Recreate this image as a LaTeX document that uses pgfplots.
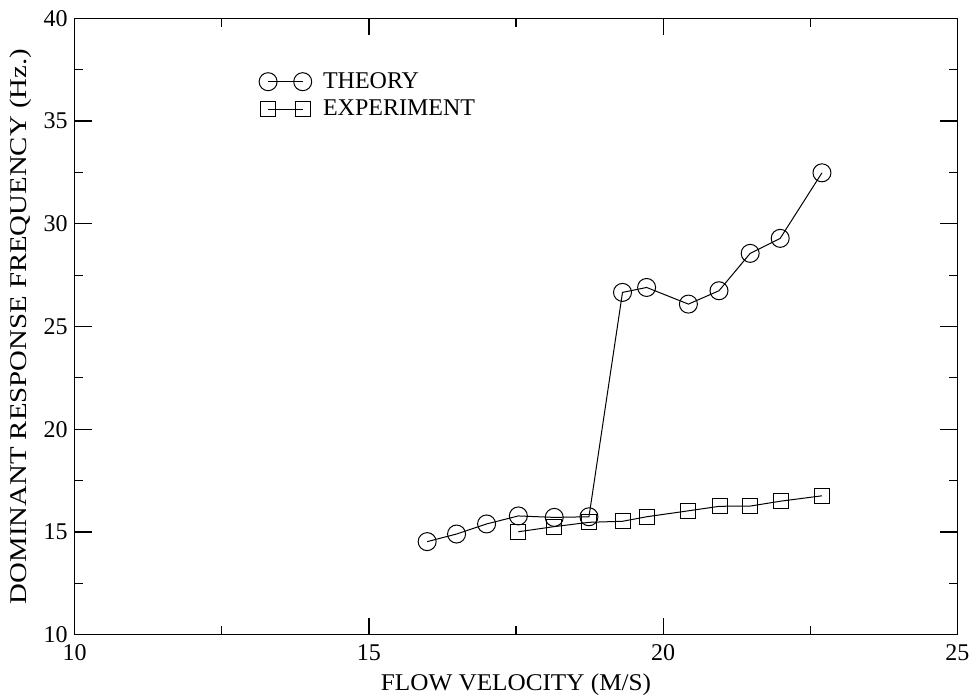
\documentclass[border=0pt]{standalone}
\usepackage{fontspec}
\setmainfont{Liberation Serif}
\usepackage{pgfplots}
\pgfplotsset{compat=1.18}

\begin{document}
\begin{tikzpicture}[font=\fontsize{12}{14}\selectfont]
  \begin{axis}[
    scale only axis,
    width=441.3pt,
    height=308.2pt,
    xmin=10, xmax=25,
    ymin=10, ymax=40,
    xtick={10,15,20,25},
    ytick={10,15,...,40},
    minor tick num=1,
    major tick length=8.5pt,
    minor tick length=4.25pt,
    tick align=inside,
    axis line style={line width=0.7pt},
    every tick/.style={black, line width=0.6pt},
    /pgf/number format/assume math mode=true,
    xticklabel style={yshift=-1.5pt},
    xlabel={FLOW VELOCITY (M/S)},
    ylabel={DOMINANT RESPONSE FREQUENCY (Hz.)},
    xlabel style={at={(axis description cs:0.5,0)}, anchor=center, yshift=-25pt, xscale=1.05},
    ylabel style={at={(axis description cs:0,0.5)}, anchor=center, yshift=27pt, xscale=1.2},
    legend cell align=left,
    legend style={draw=none, fill=none, at={(0.2085,0.918)}, anchor=north west,
      inner sep=0pt, row sep=1.4pt,
      nodes={inner sep=1.5pt}},
    legend image code/.code={
      \draw[#1] plot coordinates {(0pt,0pt) (17.3pt,0pt)};
      \path (25.7pt,0pt);
    },
  ]
    \addplot[black, line width=0.5pt, mark=o, mark size=4.5pt,
      mark options={solid, line width=0.5pt}] coordinates {
      (15.99,14.53) (16.49,14.90) (17.00,15.39) (17.54,15.78)
      (18.15,15.71) (18.74,15.74) (19.31,26.66) (19.72,26.90)
      (20.43,26.09) (20.95,26.74) (21.48,28.56) (21.99,29.29)
      (22.70,32.48)
    };
    \addlegendentry{THEORY}
    \addplot[black, line width=0.5pt, mark=square, mark size=3.75pt,
      mark options={solid, line width=0.5pt}] coordinates {
      (17.54,15.01) (18.15,15.26) (18.74,15.47) (19.31,15.52)
      (19.72,15.74) (20.43,16.03) (20.96,16.25) (21.48,16.26)
      (22.00,16.50) (22.70,16.76)
    };
    \addlegendentry{EXPERIMENT}
  \end{axis}
  \pgfresetboundingbox
  \path (current axis.south west) ++(-37.35pt,-31.15pt)
        (current axis.north east) ++(8.35pt,9.15pt);
\end{tikzpicture}
\end{document}
